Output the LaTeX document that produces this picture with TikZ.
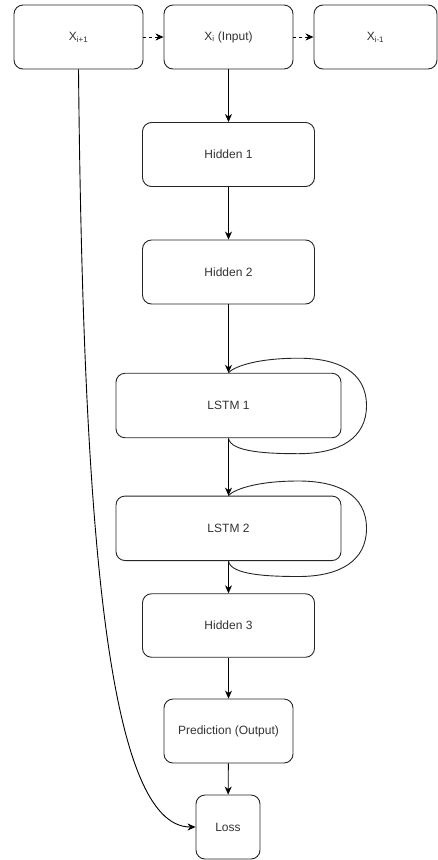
\documentclass[tikz,border=0pt]{standalone}
\usepackage{fontspec}
\setmainfont{Liberation Sans}
\usetikzlibrary{arrows.meta}
\begin{document}
\begin{tikzpicture}[x=1pt,y=-1pt,
  box/.style={draw=black!85, line width=0.9pt, rounded corners=9pt, fill=white,
    inner sep=0pt, text=black!80, font=\fontsize{12}{14}\selectfont},
  link/.style={draw=black, line width=0.9pt, -{Stealth[length=8pt,width=7pt,inset=2.5pt]}},
  loopline/.style={draw=black!85, line width=0.9pt},
  dashlink/.style={link, dash pattern=on 3pt off 3pt}]
\useasboundingbox (0,0) rectangle (438,860);

% input sequence
\node[box, minimum width=129pt, minimum height=64pt] (xnext) at (78.5,37) {X\textsubscript{i+1}};
\node[box, minimum width=129pt, minimum height=64pt] (xin) at (228.5,37) {X\textsubscript{i} (Input)};
\node[box, minimum width=123pt, minimum height=64pt] (xprev) at (375.5,37) {X\textsubscript{i-1}};

% network layers
\node[box, minimum width=172pt, minimum height=64pt] (h1) at (228.5,154.5) {Hidden 1};
\node[box, minimum width=172pt, minimum height=64pt] (h2) at (228.5,272) {Hidden 2};
\node[box, minimum width=225pt, minimum height=64.5pt] (l1) at (228.5,405.5) {LSTM 1};
\node[box, minimum width=225pt, minimum height=64.5pt] (l2) at (228.5,528.3) {LSTM 2};
\node[box, minimum width=172pt, minimum height=63.5pt] (h3) at (228.5,625.5) {Hidden 3};
\node[box, minimum width=129pt, minimum height=64pt] (pred) at (228.5,731) {Prediction (Output)};
\node[box, minimum width=64pt, minimum height=64pt] (loss) at (228,827) {Loss};

% sequence order
\draw[dashlink] (xnext) -- (xin);
\draw[dashlink] (xin) -- (xprev);

% forward pass
\draw[link] (xin) -- (h1);
\draw[link] (h1) -- (h2);
\draw[link] (h2) -- (l1);
\draw[link] (l1) -- (l2);
\draw[link] (l2) -- (h3);
\draw[link] (h3) -- (pred);
\draw[link] (pred) -- (loss);

% recurrent loops
\foreach \n in {l1,l2}{
  \draw[loopline] (\n.south) .. controls ++(2,14) and ++(-30,0) .. ++(70,15.5)
    .. controls ++(42,0) and ++(0,32) .. ++(68,-48)
    .. controls ++(0,-35) and ++(38,0) .. ++(-68,-47.5)
    .. controls ++(-45,0) and ++(4,-5) .. (\n.north);
}

% target feeds the loss
\draw[link] (xnext.south) .. controls (83,520) and (106,827) .. (loss.west);
\end{tikzpicture}
\end{document}
